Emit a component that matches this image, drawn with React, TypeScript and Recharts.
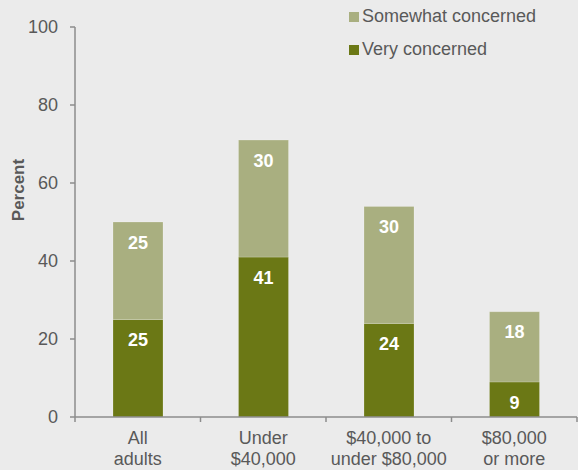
import { BarChart, Bar, XAxis, YAxis, LabelList } from 'recharts';

const categories = [['All', 'adults'], ['Under', '$40,000'], ['$40,000 to', 'under $80,000'], ['$80,000', 'or more']];
const veryConcerned = [25, 41, 24, 9];
const somewhatConcerned = [25, 30, 30, 18];
const yTicks = [0, 20, 40, 60, 80, 100];

const data = categories.map((c, i) => ({
  name: c.join('\n'),
  very: veryConcerned[i],
  somewhat: somewhatConcerned[i],
}));

const FONT = '"Liberation Sans", Arial, sans-serif';
const TEXT = '#595959';
const AXIS = '#8c8c8c';
const LIGHT = '#a9af80';
const DARK = '#6b7815';

const CategoryTick = (props: any) => {
  const { x, y, payload, index } = props;
  const half = payload.offset || 0;
  const lines = String(payload.value).split('\n');
  return (
    <g>
      <line x1={x - half} y1={y - 8} x2={x - half} y2={y - 3} stroke={AXIS} strokeWidth={1.5} />
      {index === categories.length - 1 && (
        <line x1={x + half} y1={y - 8} x2={x + half} y2={y - 3} stroke={AXIS} strokeWidth={1.5} />
      )}
      <text x={x} y={y} textAnchor="middle" fill={TEXT} fontSize={18} fontFamily={FONT}>
        {lines.map((l, i) => (
          <tspan key={i} x={x} dy={i === 0 ? 19 : 21}>{l}</tspan>
        ))}
      </text>
    </g>
  );
};

const legendItems = [
  { label: 'Somewhat concerned', color: LIGHT },
  { label: 'Very concerned', color: DARK },
];

export default function App() {
  return (
    <div style={{ position: 'absolute', left: 0, top: 0, width: 578, height: 470, background: '#ebebeb', fontFamily: FONT, overflow: 'hidden' }}>
      <BarChart width={578} height={470} data={data} margin={{ top: 27, right: 1, left: 0, bottom: 0 }} barSize={50}>
        <XAxis
          dataKey="name"
          interval={0}
          height={53}
          tickLine={false}
          axisLine={{ stroke: AXIS, strokeWidth: 1.5 }}
          tick={<CategoryTick />}
        />
        <YAxis
          type="number"
          domain={[0, 100]}
          ticks={yTicks}
          width={75}
          tickSize={5}
          tickMargin={12}
          axisLine={{ stroke: AXIS, strokeWidth: 1.5 }}
          tickLine={{ stroke: AXIS, strokeWidth: 1.5 }}
          tick={{ fill: TEXT, fontSize: 18, fontFamily: FONT }}
          label={{
            content: (p: any) => {
              const vb = p.viewBox || { x: 0, y: 0, height: 0 };
              const cx = 24;
              const cy = vb.y + vb.height * 0.418;
              return (
                <text x={cx} y={cy} transform={`rotate(-90 ${cx} ${cy})`} textAnchor="middle" fill={TEXT} fontSize={17} fontWeight="bold" fontFamily={FONT}>
                  Percent
                </text>
              );
            },
          }}
        />
        <Bar dataKey="very" stackId="a" fill={DARK} stroke="rgba(255,255,255,0.2)" strokeWidth={1} isAnimationActive={false}>
          <LabelList dataKey="very" position="insideTop" offset={14} fill="#ffffff" fontSize={18} fontWeight="bold" fontFamily={FONT} />
        </Bar>
        <Bar dataKey="somewhat" stackId="a" fill={LIGHT} stroke="rgba(255,255,255,0.2)" strokeWidth={1} isAnimationActive={false}>
          <LabelList dataKey="somewhat" position="insideTop" offset={14} fill="#ffffff" fontSize={18} fontWeight="bold" fontFamily={FONT} />
        </Bar>
      </BarChart>
      {/* legend, top right */}
      <div style={{ position: 'absolute', top: 0, left: 349, fontSize: 18, color: TEXT }}>
        {legendItems.map((it) => (
          <div key={it.label} style={{ display: 'flex', alignItems: 'center', height: 33 }}>
            <span style={{ width: 10, height: 10, background: it.color, marginRight: 3, display: 'inline-block' }} />
            {it.label}
          </div>
        ))}
      </div>
    </div>
  );
}
